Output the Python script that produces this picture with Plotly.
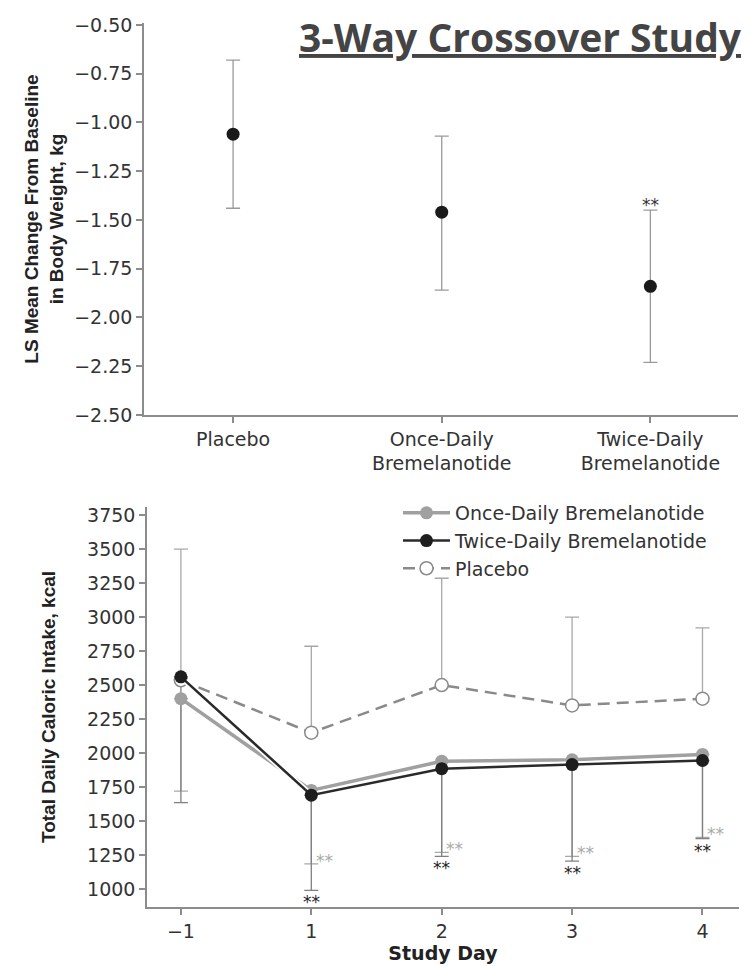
import plotly.graph_objects as go

# ---------------- Top panel data ----------------
groups = ["Placebo", "Once-Daily<br>Bremelanotide", "Twice-Daily<br>Bremelanotide"]
wt_mean = [-1.06, -1.46, -1.84]
wt_upper = [-0.68, -1.07, -1.45]
wt_lower = [-1.44, -1.86, -2.23]
wt_sig = ["", "", "**"]
wt_ticks = [-2.5, -2.25, -2.0, -1.75, -1.5, -1.25, -1.0, -0.75, -0.5]

# ---------------- Bottom panel data ----------------
days = ["\u22121", "1", "2", "3", "4"]
once_mean = [2400, 1725, 1940, 1950, 1990]
twice_mean = [2560, 1690, 1885, 1915, 1945]
placebo_mean = [2535, 2150, 2500, 2350, 2400]
placebo_upper = [3500, 2785, 3285, 3000, 2920]
once_lower = [1720, 1185, 1270, 1240, 1380]
twice_lower = [1635, 990, 1240, 1205, 1370]
once_sig = ["", "**", "**", "**", "**"]
twice_sig = ["", "**", "**", "**", "**"]
kcal_ticks = [1000, 1250, 1500, 1750, 2000, 2250, 2500, 2750, 3000, 3250, 3500, 3750]

W, H = 750, 966
OFF = 8  # page body margin offset


def px_x(x):
    return (x - OFF) / W


def px_y(y):
    return 1 - (y - OFF) / H


TICKFONT = dict(family="DejaVu Sans", size=19, color="#333333")
YTITLEFONT = dict(family="Liberation Sans, Arial", size=19, color="#222222")
AXCOL = "#8c8c8c"
STARFONT = dict(family="DejaVu Sans", size=17)

fig = go.Figure()

# Top panel: means with 95% CI
fig.add_trace(go.Scatter(
    x=groups, y=wt_mean, mode="markers", showlegend=False,
    marker=dict(size=13, color="#1a1a1a"),
    error_y=dict(type="data", symmetric=False,
                 array=[u - m for u, m in zip(wt_upper, wt_mean)],
                 arrayminus=[m - l for m, l in zip(wt_mean, wt_lower)],
                 color="#9a9a9a", thickness=1.3, width=7),
    xaxis="x", yaxis="y"))

# Bottom panel: one-sided error bars
fig.add_trace(go.Scatter(
    x=days, y=placebo_mean, mode="markers", showlegend=False,
    marker=dict(size=1, opacity=0),
    error_y=dict(type="data", symmetric=False,
                 array=[u - m for u, m in zip(placebo_upper, placebo_mean)],
                 arrayminus=[0] * len(days),
                 color="#a8a8a8", thickness=1.3, width=7),
    xaxis="x2", yaxis="y2", hoverinfo="skip"))
fig.add_trace(go.Scatter(
    x=days, y=once_mean, mode="markers", showlegend=False,
    marker=dict(size=1, opacity=0),
    error_y=dict(type="data", symmetric=False,
                 array=[0] * len(days),
                 arrayminus=[m - l for m, l in zip(once_mean, once_lower)],
                 color="#a8a8a8", thickness=1.3, width=7),
    xaxis="x2", yaxis="y2", hoverinfo="skip"))
fig.add_trace(go.Scatter(
    x=days, y=twice_mean, mode="markers", showlegend=False,
    marker=dict(size=1, opacity=0),
    error_y=dict(type="data", symmetric=False,
                 array=[0] * len(days),
                 arrayminus=[m - l for m, l in zip(twice_mean, twice_lower)],
                 color="#808080", thickness=1.3, width=7),
    xaxis="x2", yaxis="y2", hoverinfo="skip"))

# Placebo line
fig.add_trace(go.Scatter(
    x=days, y=placebo_mean, mode="lines+markers", name="Placebo",
    line=dict(color="#8a8a8a", width=2.5, dash="12px,7px"),
    marker=dict(size=13, color="white", line=dict(color="#8a8a8a", width=1.5)),
    xaxis="x2", yaxis="y2", legendrank=3))
# Once-daily (white halo + line)
fig.add_trace(go.Scatter(
    x=days, y=once_mean, mode="lines", showlegend=False,
    line=dict(color="white", width=6), xaxis="x2", yaxis="y2", hoverinfo="skip"))
fig.add_trace(go.Scatter(
    x=days, y=once_mean, mode="lines+markers", name="Once-Daily Bremelanotide",
    line=dict(color="#a0a0a0", width=3.5),
    marker=dict(size=13, color="#a0a0a0"),
    xaxis="x2", yaxis="y2", legendrank=1))
# Twice-daily (white halo + line)
fig.add_trace(go.Scatter(
    x=days, y=twice_mean, mode="lines", showlegend=False,
    line=dict(color="white", width=6), xaxis="x2", yaxis="y2", hoverinfo="skip"))
fig.add_trace(go.Scatter(
    x=days, y=twice_mean, mode="lines+markers", name="Twice-Daily Bremelanotide",
    line=dict(color="#2a2a2a", width=2.5),
    marker=dict(size=13, color="#1e1e1e"),
    xaxis="x2", yaxis="y2", legendrank=2))

annotations = []
# Title
annotations.append(dict(
    text="<b><u>3-Way Crossover Study</u></b>", x=px_x(744), y=1.0,
    xref="paper", yref="paper", xanchor="right", yanchor="top", showarrow=False,
    font=dict(family="Open Sans", size=39, color="#444444")))
# Significance markers, top panel
for g, u, s in zip(groups, wt_upper, wt_sig):
    if s:
        annotations.append(dict(text=s, x=g, y=u, xref="x", yref="y", showarrow=False,
                                yshift=5, font=dict(**STARFONT, color="#333333")))
# Significance markers, bottom panel
for d, l, s in zip(days, once_lower, once_sig):
    if s:
        annotations.append(dict(text=s, x=d, y=l, xref="x2", yref="y2", showarrow=False,
                                xshift=13, yshift=3, font=dict(**STARFONT, color="#aaaaaa")))
for d, l, s in zip(days, twice_lower, twice_sig):
    if s:
        annotations.append(dict(text=s, x=d, y=l, xref="x2", yref="y2", showarrow=False,
                                yshift=-12, font=dict(**STARFONT, color="#222222")))

axis_common = dict(showgrid=False, zeroline=False, showline=True, linecolor=AXCOL, linewidth=1.5,
                   ticks="outside", ticklen=6, tickcolor=AXCOL, tickwidth=1.5, tickfont=TICKFONT,
                   automargin=False)

fig.update_layout(
    template="none",
    width=W, height=H, margin=dict(l=0, r=0, t=0, b=0, pad=0, autoexpand=False),
    paper_bgcolor="white", plot_bgcolor="white",
    font=dict(family="DejaVu Sans", color="#333333"),
    xaxis=dict(**axis_common, domain=[px_x(144), px_x(738)], range=[-0.427, 2.42],
               anchor="y", type="category"),
    yaxis=dict(**axis_common, domain=[px_y(415), px_y(23)], range=[-2.5, -0.49],
               anchor="x", tickvals=wt_ticks, tickformat=".2f",
               title=dict(text="<b>LS Mean Change From Baseline<br>in Body Weight, kg</b>",
                          font=YTITLEFONT, standoff=6)),
    xaxis2=dict(**axis_common, domain=[px_x(147), px_x(739)], range=[-0.26, 4.28],
                anchor="y2", type="category",
                title=dict(text="<b>Study Day</b>",
                           font=dict(family="DejaVu Sans", size=19, color="#222222"),
                           standoff=6)),
    yaxis2=dict(**axis_common, domain=[px_y(907), px_y(507)], range=[868, 3809],
                anchor="x2", tickvals=kcal_ticks,
                title=dict(text="<b>Total Daily Caloric Intake, kcal</b>",
                           font=YTITLEFONT, standoff=26)),
    legend=dict(x=px_x(398), y=px_y(494), xanchor="left", yanchor="top",
                font=dict(family="DejaVu Sans", size=19, color="#333333"),
                bgcolor="rgba(0,0,0,0)", tracegroupgap=0, itemwidth=47,
                borderwidth=0),
    annotations=annotations,
    showlegend=True,
)

fig.write_html("out.html")
